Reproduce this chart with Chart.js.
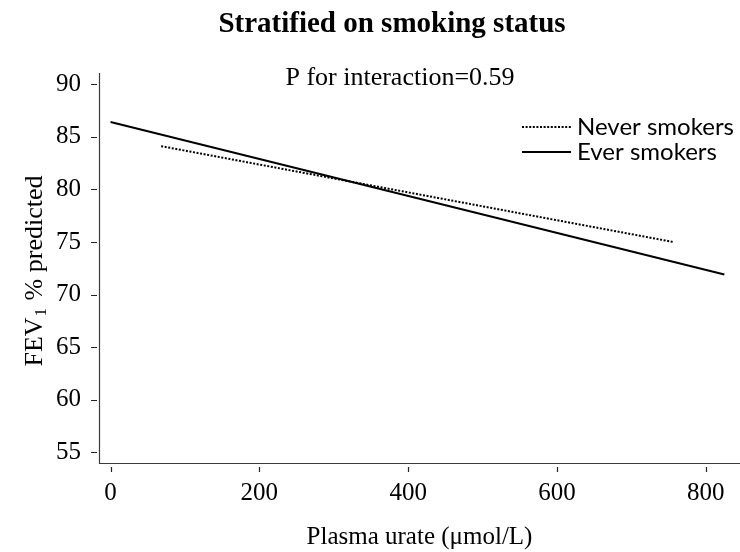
<!DOCTYPE html>
<html>
<head>
<meta charset="utf-8">
<script src="https://cdn.jsdelivr.net/npm/chart.js@4"></script>
<style>
  html, body { margin: 0; padding: 0; background: #fff; }
  #wrap { width: 740px; height: 552px; }
</style>
</head>
<body>
<div id="wrap"><canvas id="c" width="740" height="552"></canvas></div>
<script>
// Fitted regression lines of FEV1 % predicted on plasma urate, by smoking status
const urateNever = [68, 756];
const fevNever = [84.1, 75.0];
const urateEver = [0, 825];
const fevEver = [86.4, 71.9];

const xTickValues = [0, 200, 400, 600, 800];
const yTickValues = [55, 60, 65, 70, 75, 80, 85, 90];

const seriesLabels = ['Never smokers', 'Ever smokers'];
const chartTitle = 'Stratified on smoking status';
const interactionNote = 'P for interaction=0.59';
const xTitle = 'Plasma urate (\u03BCmol/L)';

const SERIF = '"Liberation Serif", "Times New Roman", Times, serif';

function toPoints(xs, ys) {
  return xs.map((x, i) => ({ x: x, y: ys[i] }));
}

// Axes with detached tick marks, title, note, legend and subscripted y title
const decorations = {
  id: 'decorations',
  afterDraw(chart) {
    const ctx = chart.ctx;
    const area = chart.chartArea;
    const xs = chart.scales.x;
    const ys = chart.scales.y;
    ctx.save();

    // axis lines
    ctx.strokeStyle = '#3a3a3a';
    ctx.lineWidth = 1.2;
    ctx.beginPath();
    ctx.moveTo(area.left + 0.5, area.top);
    ctx.lineTo(area.left + 0.5, area.bottom + 0.5);
    ctx.lineTo(area.right, area.bottom + 0.5);
    ctx.stroke();

    // tick marks, set slightly apart from the axis lines
    ctx.strokeStyle = '#222';
    ctx.lineWidth = 1.2;
    ctx.beginPath();
    xTickValues.forEach(v => {
      const px = Math.round(xs.getPixelForValue(v)) + 0.5;
      ctx.moveTo(px, area.bottom + 4);
      ctx.lineTo(px, area.bottom + 9);
    });
    yTickValues.forEach(v => {
      const py = Math.round(ys.getPixelForValue(v)) + 0.5;
      ctx.moveTo(area.left - 8, py);
      ctx.lineTo(area.left - 2, py);
    });
    ctx.stroke();

    // chart title
    ctx.fillStyle = '#000';
    ctx.textAlign = 'center';
    ctx.textBaseline = 'alphabetic';
    ctx.font = 'bold 29px ' + SERIF;
    ctx.fillText(chartTitle, 392, 32);

    // interaction note
    ctx.font = '26px ' + SERIF;
    ctx.fillText(interactionNote, 400, 85);

    // y axis title with subscript
    ctx.save();
    ctx.translate(42, 271);
    ctx.rotate(-Math.PI / 2);
    const big = '26px ' + SERIF;
    const small = '17px ' + SERIF;
    const partA = 'FEV';
    const partB = '1';
    const partC = ' % predicted';
    ctx.font = big;
    const wA = ctx.measureText(partA).width;
    const wC = ctx.measureText(partC).width;
    ctx.font = small;
    const wB = ctx.measureText(partB).width + 2;
    let start = -(wA + wB + wC) / 2;
    ctx.textAlign = 'left';
    ctx.font = big;
    ctx.fillText(partA, start, 0);
    ctx.font = small;
    ctx.fillText(partB, start + wA + 1, 4);
    ctx.font = big;
    ctx.fillText(partC, start + wA + wB, 0);
    ctx.restore();

    // legend
    const lx0 = 522, lx1 = 571, textX = 577;
    const rows = [127, 152];
    chart.data.datasets.forEach((ds, i) => {
      const yy = rows[i];
      ctx.strokeStyle = ds.borderColor;
      ctx.lineWidth = ds.borderWidth;
      ctx.setLineDash(ds.borderDash || []);
      ctx.beginPath();
      ctx.moveTo(lx0, yy);
      ctx.lineTo(lx1, yy);
      ctx.stroke();
      ctx.setLineDash([]);
      ctx.fillStyle = '#000';
      ctx.font = '24px Lato, "Liberation Sans", sans-serif';
      ctx.textAlign = 'left';
      ctx.textBaseline = 'middle';
      ctx.fillText(ds.label, textX, yy);
    });

    ctx.restore();
  }
};

new Chart(document.getElementById('c'), {
  type: 'scatter',
  data: {
    datasets: [
      {
        label: seriesLabels[0],
        data: toPoints(urateNever, fevNever),
        showLine: true,
        borderColor: '#000',
        borderWidth: 2,
        borderDash: [2, 1.6],
        pointRadius: 0,
        fill: false
      },
      {
        label: seriesLabels[1],
        data: toPoints(urateEver, fevEver),
        showLine: true,
        borderColor: '#000',
        borderWidth: 2,
        pointRadius: 0,
        fill: false
      }
    ]
  },
  plugins: [decorations],
  options: {
    responsive: false,
    animation: false,
    devicePixelRatio: 1,
    layout: { padding: { top: 73, right: 0, bottom: 0, left: 0 } },
    plugins: {
      legend: { display: false },
      title: { display: false },
      tooltip: { enabled: false }
    },
    scales: {
      x: {
        type: 'linear',
        min: -15.5,
        max: 846,
        grid: { display: false, drawTicks: false },
        border: { display: false },
        afterBuildTicks: s => { s.ticks = xTickValues.map(v => ({ value: v })); },
        afterFit: s => { s.height = 89; },
        ticks: {
          autoSkip: false,
          maxRotation: 0,
          padding: 15,
          color: '#000',
          font: { family: SERIF, size: 25 }
        },
        title: {
          display: true,
          text: xTitle,
          color: '#000',
          padding: { top: 0, bottom: 0 },
          font: { family: SERIF, size: 25 }
        }
      },
      y: {
        min: 54,
        max: 91.05,
        grid: { display: false, drawTicks: false },
        border: { display: false },
        afterBuildTicks: s => { s.ticks = yTickValues.map(v => ({ value: v })); },
        afterFit: s => { s.width = 99; },
        ticks: {
          autoSkip: false,
          padding: 18,
          color: '#000',
          font: { family: SERIF, size: 25 }
        }
      }
    }
  }
});
</script>
</body>
</html>
